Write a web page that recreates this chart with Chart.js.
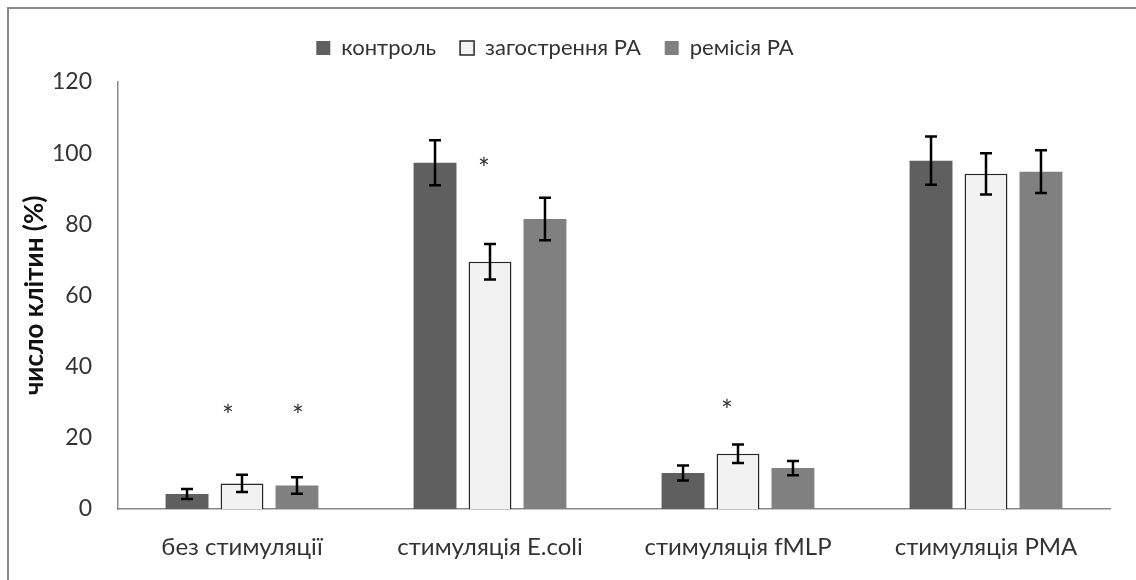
<!DOCTYPE html>
<html>
<head>
<meta charset="utf-8">
<script src="https://cdn.jsdelivr.net/npm/chart.js@4"></script>
<style>
  html, body { margin: 0; padding: 0; background: #fff; }
  canvas { display: block; }
</style>
</head>
<body>
<canvas id="cellChart" width="1136" height="580"></canvas>
<script>
const categories = ["без стимуляції", "стимуляція E.coli", "стимуляція fMLP", "стимуляція PMA"];
const control = [4.2, 97.3, 10.1, 97.9];
const controlErr = [1.4, 6.3, 2.1, 6.8];
const flare = [7.2, 69.5, 15.5, 94.2];
const flareErr = [2.4, 5.0, 2.6, 5.8];
const remission = [6.6, 81.5, 11.5, 94.8];
const remissionErr = [2.3, 6.0, 2.0, 6.0];
// significance marks: series index, category index, height in %
const stars = [[1, 0, 27.5], [2, 0, 27.5], [1, 1, 97], [1, 2, 29]];
const starShift = [-14, 1, -6, -11];

const errs = [controlErr, flareErr, remissionErr];
const font = "Lato, 'Open Sans', sans-serif";

// grey frame round the whole chart (only left/top fall inside the picture)
const frame = {
  id: "frame",
  beforeInit(chart) {
    // extra room between legend and plot
    const fit = chart.legend.fit;
    chart.legend.fit = function () {
      fit.call(this);
      this.height += 13;
    };
  },
  beforeDraw(chart) {
    const ctx = chart.ctx;
    ctx.save();
    ctx.strokeStyle = "#8a8a8a";
    ctx.lineWidth = 2;
    ctx.strokeRect(8, 8, 1200, 700);
    ctx.restore();
  }
};

const errorBars = {
  id: "errorBars",
  afterDatasetsDraw(chart) {
    const ctx = chart.ctx;
    const y = chart.scales.y;
    ctx.save();
    ctx.strokeStyle = "#000";
    ctx.lineWidth = 2.5;
    chart.data.datasets.forEach((ds, di) => {
      chart.getDatasetMeta(di).data.forEach((bar, i) => {
        const v = ds.data[i], e = errs[di][i];
        const top = y.getPixelForValue(v + e), bot = y.getPixelForValue(v - e);
        ctx.beginPath();
        ctx.moveTo(bar.x, top); ctx.lineTo(bar.x, bot);
        ctx.moveTo(bar.x - 6, top); ctx.lineTo(bar.x + 6, top);
        ctx.moveTo(bar.x - 6, bot); ctx.lineTo(bar.x + 6, bot);
        ctx.stroke();
      });
    });
    ctx.fillStyle = "#333";
    ctx.font = "28px " + font;
    ctx.textAlign = "center";
    ctx.textBaseline = "middle";
    stars.forEach(([di, i, v], k) => {
      const bar = chart.getDatasetMeta(di).data[i];
      ctx.fillText("*", bar.x + starShift[k], y.getPixelForValue(v) + 6);
    });
    ctx.restore();
  }
};

new Chart(document.getElementById("cellChart"), {
  type: "bar",
  data: {
    labels: categories,
    datasets: [
      { label: "контроль", data: control, backgroundColor: "#5f5f5f", borderColor: "#5f5f5f", borderWidth: 0 },
      { label: "загострення РА", data: flare, backgroundColor: "#f2f2f2", borderColor: "#262626", borderWidth: 1.5 },
      { label: "ремісія РА", data: remission, backgroundColor: "#808080", borderColor: "#808080", borderWidth: 0 }
    ]
  },
  options: {
    responsive: false,
    animation: false,
    devicePixelRatio: 1,
    categoryPercentage: 0.665,
    barPercentage: 0.78,
    layout: { padding: { left: 0, right: 26, top: 13, bottom: 0 } },
    plugins: {
      legend: {
        position: "top",
        labels: {
          boxWidth: 14, boxHeight: 14, padding: 24,
          color: "#333",
          font: { family: font, size: 22 }
        }
      },
      tooltip: { enabled: false }
    },
    scales: {
      x: {
        grid: { display: false, drawTicks: false },
        border: { display: true, color: "#898989", width: 1.5 },
        ticks: { color: "#333", padding: 24, font: { family: font, size: 24 } },
        afterFit(s) { s.height = 71; }
      },
      y: {
        min: 0, max: 120,
        grid: { display: false, drawTicks: false },
        border: { display: true, color: "#898989", width: 1.5 },
        ticks: { stepSize: 20, color: "#333", padding: 26, font: { family: font, size: 23 } },
        title: { display: true, text: "число клітин (%)", color: "#111", padding: { top: 19, bottom: 0 }, font: { family: font, size: 26, weight: "bold" } },
        afterFit(s) { s.width = 118; }
      }
    }
  },
  plugins: [frame, errorBars]
});
</script>
</body>
</html>
